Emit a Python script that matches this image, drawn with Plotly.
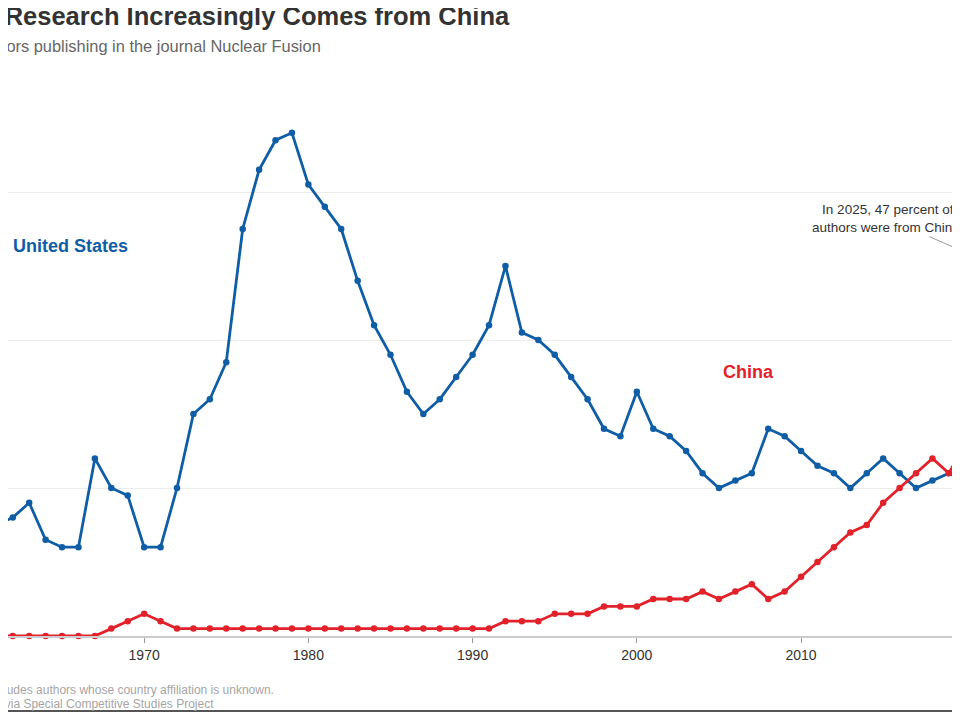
import plotly.graph_objects as go

# Share of authors (percent) in Nuclear Fusion by country affiliation
anos = list(range(1960, 2026))

eua = [14, 15, 16, 18, 13, 12, 12, 24, 20, 19,
       12, 12, 20, 30, 32, 37, 55, 63, 67, 68,
       61, 58, 55, 48, 42, 38, 33, 30, 32, 35,
       38, 42, 50, 41, 40, 38, 35, 32, 28, 27,
       33, 28, 27, 25, 22, 20, 21, 22, 28, 27,
       25, 23, 22, 20, 22, 24, 22, 20, 21, 22,
       21, 19, 18, 17, 16, 15]

china = [0, 0, 0, 0, 0, 0, 0, 0, 1, 2,
         3, 2, 1, 1, 1, 1, 1, 1, 1, 1,
         1, 1, 1, 1, 1, 1, 1, 1, 1, 1,
         1, 1, 2, 2, 2, 3, 3, 3, 4, 4,
         4, 5, 5, 5, 6, 5, 6, 7, 5, 6,
         8, 10, 12, 14, 15, 18, 20, 22, 24, 22,
         26, 30, 35, 40, 44, 47]

cor_eua = '#0f5ea5'
cor_china = '#e2222a'
fonte = 'Liberation Sans, Arial, sans-serif'

# a pagina tem margem de 8px, entao a figura fica em 944x704
larg, alt = 944, 704

# janela visivel do grafico (o recorte corta as bordas)
x0, x1 = 1961.71, 2019.19
y0, y1 = 0, 70

fig = go.Figure()

fig.add_trace(go.Scatter(x=anos, y=eua, mode='lines+markers', name='United States',
                         line=dict(color=cor_eua, width=2.8),
                         marker=dict(color=cor_eua, size=6.5), cliponaxis=False))
fig.add_trace(go.Scatter(x=anos, y=china, mode='lines+markers', name='China',
                         line=dict(color=cor_china, width=2.8),
                         marker=dict(color=cor_china, size=6.5), cliponaxis=False))

# rotulos das series
fig.add_annotation(x=1961.87, y=52.7, text='<b>United States</b>', showarrow=False,
                   xanchor='left', font=dict(family=fonte, size=18, color=cor_eua))
fig.add_annotation(x=2005.1, y=35.7, text='<b>China</b>', showarrow=False,
                   xanchor='left', font=dict(family=fonte, size=18, color=cor_china))

# nota sobre 2025
fig.add_annotation(x=anos[-1], y=china[-1], ax=2015.3, ay=56.4, axref='x', ayref='y',
                   text='In 2025, 47 percent of<br>authors were from China.',
                   showarrow=True, arrowhead=0, arrowwidth=1, arrowcolor='#9a9a9a',
                   align='center', font=dict(family=fonte, size=13.5, color='#333333'))

# titulo, subtitulo e rodape (cortados a esquerda)
fig.add_annotation(xref='paper', yref='paper', x=504 / larg, y=1.1969, xanchor='right',
                   yanchor='middle', showarrow=False,
                   text='<b>Fusion Research Increasingly Comes from China</b>',
                   font=dict(family=fonte, size=25.5, color='#333333'))
fig.add_annotation(xref='paper', yref='paper', x=315 / larg, y=1.139, xanchor='right',
                   yanchor='middle', showarrow=False,
                   text='Share of authors publishing in the journal Nuclear Fusion',
                   font=dict(family=fonte, size=16.4, color='#666666'))
fig.add_annotation(xref='paper', yref='paper', x=268 / larg, y=-0.1042, xanchor='right',
                   yanchor='middle', showarrow=False,
                   text='Note: Excludes authors whose country affiliation is unknown.',
                   font=dict(family=fonte, size=12, color='#a5a5a5'))
fig.add_annotation(xref='paper', yref='paper', x=208 / larg, y=-0.1313, xanchor='right',
                   yanchor='middle', showarrow=False,
                   text='Source: Nuclear Fusion via Special Competitive Studies Project',
                   font=dict(family=fonte, size=12, color='#a5a5a5'))

# linha inferior do recorte
fig.add_shape(type='line', xref='paper', yref='paper', x0=0, x1=1, y0=-0.1448, y1=-0.1448,
              line=dict(color='#555555', width=2))

fig.update_layout(
    width=larg, height=alt,
    margin=dict(l=0, r=0, t=110, b=76),
    plot_bgcolor='white', paper_bgcolor='white',
    showlegend=False,
    font=dict(family=fonte, color='#333333'),
    xaxis=dict(range=[x0, x1], tickvals=[1970, 1980, 1990, 2000, 2010],
               showgrid=False, zeroline=False, showline=True, linecolor='#cccccc',
               linewidth=1.5, ticks='outside', ticklen=5, tickcolor='#999999',
               tickfont=dict(family=fonte, size=14, color='#333333')),
    yaxis=dict(range=[y0, y1], dtick=20, showticklabels=False, showgrid=True,
               gridcolor='#ececec', gridwidth=1, zeroline=False, showline=False),
)

fig.write_html("out.html")
